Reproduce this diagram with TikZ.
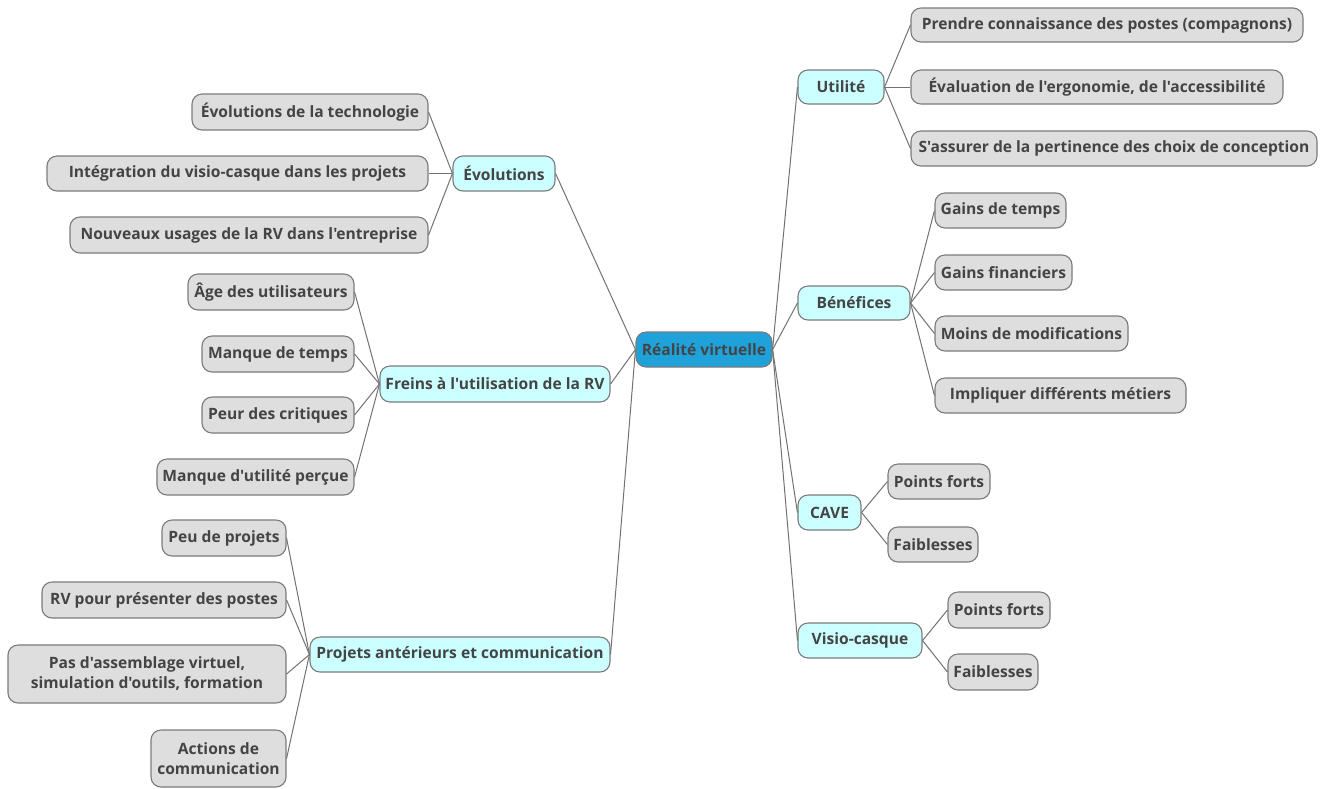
\documentclass[tikz,border=0pt]{standalone}
\usepackage{fontspec}
\setmainfont{Open Sans}[Ligatures=TeXOff]
\definecolor{rootc}{HTML}{1FA2DA}
\definecolor{lonec}{HTML}{CCFFFF}
\definecolor{ltwoc}{HTML}{DEDEDE}
\definecolor{bord}{HTML}{7B7B7B}
\definecolor{txt}{HTML}{444444}
\definecolor{edgec}{HTML}{727272}
\tikzset{
 box/.style={draw=bord, line width=1.1pt, rounded corners=10pt, inner sep=0pt, text=txt, font=\fontsize{15.6}{20}\selectfont\bfseries, align=center},
 rootbox/.style={box, fill=rootc},
 lonebox/.style={box, fill=lonec},
 ltwobox/.style={box, fill=ltwoc},
 link/.style={draw=edgec, line width=1pt},
}
\newcommand\nd[7]{\node[#6, minimum width=#4pt, minimum height=#5pt] (#1) at (#2,#3) {#7};}
\begin{document}
\begin{tikzpicture}[x=1pt,y=-1pt]
\useasboundingbox[fill=white] (0,0) rectangle (1327,788);
% root
\nd{root}{704}{349.5}{136}{35}{rootbox}{Réalité virtuelle}
% right level 1
\nd{util}{841}{87}{86}{34}{lonebox}{Utilité}
\nd{bene}{854}{303}{112}{34}{lonebox}{Bénéfices}
\nd{cave}{829.5}{512.5}{63}{35}{lonebox}{CAVE}
\nd{visio}{860}{640.5}{124}{35}{lonebox}{Visio-casque}
% right level 2
\nd{u1}{1107}{25}{392}{34}{ltwobox}{Prendre connaissance des postes (compagnons)}
\nd{u2}{1097}{87}{372}{34}{ltwobox}{Évaluation de l'ergonomie, de l'accessibilité}
\nd{u3}{1114}{148.5}{406}{35}{ltwobox}{S'assurer de la pertinence des choix de conception}
\nd{b1}{1000.5}{210.5}{131}{35}{ltwobox}{Gains de temps}
\nd{b2}{1003.5}{272.5}{137}{35}{ltwobox}{Gains financiers}
\nd{b3}{1031.5}{333.5}{193}{35}{ltwobox}{Moins de modifications}
\nd{b4}{1060.5}{395.5}{251}{35}{ltwobox}{Impliquer différents métiers}
\nd{c1}{939}{481.5}{102}{35}{ltwobox}{Points forts}
\nd{c2}{933}{544.5}{90}{35}{ltwobox}{Faiblesses}
\nd{v1}{999}{610}{102}{36}{ltwobox}{Points forts}
\nd{v2}{993}{672}{90}{36}{ltwobox}{Faiblesses}
% left level 1
\nd{evol}{504}{173.5}{102}{35}{lonebox}{Évolutions}
\nd{frein}{495}{384}{230}{36}{lonebox}{Freins à l'utilisation de la RV}
\nd{proj}{460}{654.5}{300}{35}{lonebox}{Projets antérieurs et communication}
% left level 2
\nd{e1}{310}{112}{236}{36}{ltwobox}{Évolutions de la technologie}
\nd{e2}{237.5}{173.5}{381}{35}{ltwobox}{Intégration du visio-casque dans les projets}
\nd{e3}{249}{235}{358}{36}{ltwobox}{Nouveaux usages de la RV dans l'entreprise}
\nd{f1}{271}{292}{166}{36}{ltwobox}{Âge des utilisateurs}
\nd{f2}{278}{354}{152}{36}{ltwobox}{Manque de temps}
\nd{f3}{278}{415}{152}{36}{ltwobox}{Peur des critiques}
\nd{f4}{255.5}{477}{197}{36}{ltwobox}{Manque d'utilité perçue}
\nd{p1}{224}{538}{124}{36}{ltwobox}{Peu de projets}
\nd{p2}{164}{600}{244}{36}{ltwobox}{RV pour présenter des postes}
\nd{p3}{147}{674}{278}{58}{ltwobox}{Pas d'assemblage virtuel,\\simulation d'outils, formation}
\nd{p4}{218.5}{758.5}{135}{57}{ltwobox}{Actions de\\communication}
% connectors
\foreach \c in {util,bene,cave,visio} \draw[link] (root.east) -- (\c.west);
\foreach \c in {evol,frein,proj} \draw[link] (root.west) -- (\c.east);
\foreach \c in {u1,u2,u3} \draw[link] (util.east) -- (\c.west);
\foreach \c in {b1,b2,b3,b4} \draw[link] (bene.east) -- (\c.west);
\foreach \c in {c1,c2} \draw[link] (cave.east) -- (\c.west);
\foreach \c in {v1,v2} \draw[link] (visio.east) -- (\c.west);
\foreach \c in {e1,e2,e3} \draw[link] (evol.west) -- (\c.east);
\foreach \c in {f1,f2,f3,f4} \draw[link] (frein.west) -- (\c.east);
\foreach \c in {p1,p2,p3,p4} \draw[link] (proj.west) -- (\c.east);
\end{tikzpicture}
\end{document}
